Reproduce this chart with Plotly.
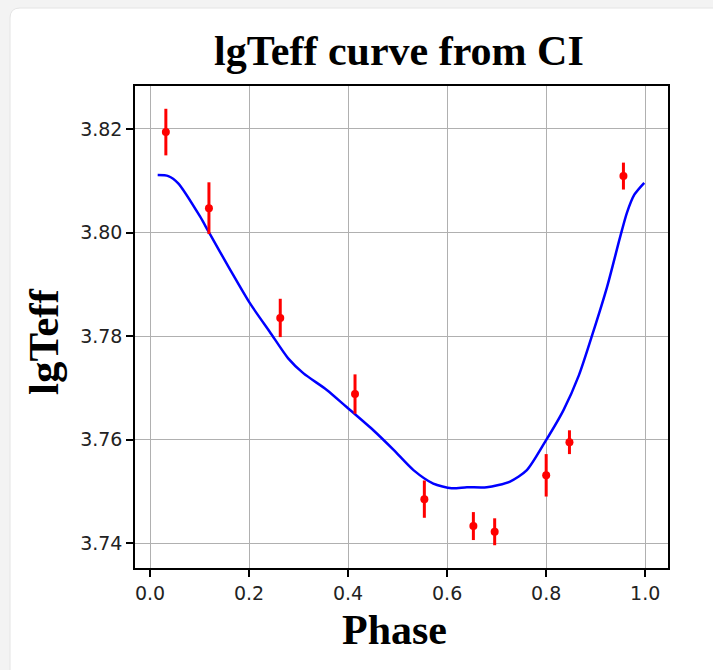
import plotly.graph_objects as go

# Observed data points (phase, lgTeff, error)
obs_phase = [0.032, 0.119, 0.263, 0.414, 0.554, 0.653, 0.696, 0.800, 0.847, 0.956]
obs_lgteff = [3.8194, 3.8047, 3.7835, 3.7688, 3.7485, 3.7433, 3.7422, 3.7531, 3.7595, 3.8109]
obs_err = [0.0045, 0.0050, 0.0037, 0.0038, 0.0036, 0.0027, 0.0026, 0.0041, 0.0023, 0.0026]

# Model curve
curve_phase = [0.0155, 0.037, 0.057, 0.101, 0.118, 0.162, 0.202, 0.242, 0.279, 0.310,
               0.357, 0.397, 0.451, 0.492, 0.532, 0.572, 0.609, 0.640, 0.680, 0.727,
               0.761, 0.798, 0.835, 0.866, 0.894, 0.923, 0.949, 0.963, 0.978, 0.998]
curve_lgteff = [3.8111, 3.8109, 3.8095, 3.8031, 3.8002, 3.7928, 3.7863, 3.7808, 3.7757, 3.7728,
                3.7696, 3.7663, 3.7618, 3.7580, 3.7541, 3.7515, 3.7506, 3.7508, 3.7508, 3.7519,
                3.7541, 3.7596, 3.7657, 3.7724, 3.7805, 3.7895, 3.7990, 3.8038, 3.8073, 3.8096]

x_ticks = [0.0, 0.2, 0.4, 0.6, 0.8, 1.0]
y_ticks = [3.74, 3.76, 3.78, 3.80, 3.82]

W, H = 713, 670
L, R, T, B = 135, 45, 86, 102
pw, ph = W - L - R, H - T - B

def px_x(p):
    return (p - L) / pw

def px_y(p):
    return (H - B - p) / ph

fig = go.Figure()
fig.add_trace(go.Scatter(
    x=curve_phase, y=curve_lgteff, mode="lines",
    line=dict(color="blue", width=2.5, shape="spline", smoothing=0.7),
    hoverinfo="skip"))
fig.add_trace(go.Scatter(
    x=obs_phase, y=obs_lgteff, mode="markers",
    marker=dict(color="red", size=8),
    error_y=dict(type="data", array=obs_err, color="red", thickness=3, width=0)))

# card background
x0, xr = px_x(10), px_x(760)
yt, yb = px_y(8), px_y(720)
rx, ry = 10 / pw, 10 / ph
path = (f"M {x0},{yb} L {x0},{yt - ry} Q {x0},{yt} {x0 + rx},{yt} "
        f"L {xr},{yt} L {xr},{yb} Z")
fig.add_shape(type="path", path=path, xref="paper", yref="paper",
              fillcolor="white", line=dict(color="#e4e4e4", width=1), layer="below")

serif = "Liberation Serif"
fig.add_annotation(text="<b>lgTeff curve from CI</b>", xref="paper", yref="paper",
                   x=px_x(399), y=px_y(51), showarrow=False, xanchor="center", yanchor="middle",
                   font=dict(family=serif, size=42, color="black"))
fig.add_annotation(text="<b>Phase</b>", xref="paper", yref="paper",
                   x=px_x(394), y=px_y(630), showarrow=False, xanchor="center", yanchor="middle",
                   font=dict(family=serif, size=42, color="black"))
fig.add_annotation(text="<b>lgTeff</b>", xref="paper", yref="paper", textangle=-90,
                   x=px_x(43), y=px_y(342), showarrow=False, xanchor="center", yanchor="middle",
                   font=dict(family=serif, size=43, color="black"))

axis_common = dict(showgrid=True, gridcolor="#b0b0b0", gridwidth=1.3,
                   showline=True, linecolor="black", linewidth=1.5, mirror=True,
                   ticks="outside", ticklen=7, tickwidth=1.5, tickcolor="black",
                   zeroline=False,
                   tickfont=dict(family="DejaVu Sans", size=19, color="#222222"))
fig.update_xaxes(range=[-0.0303, 1.046], tickvals=x_ticks,
                 ticktext=[f"{v:.1f}" for v in x_ticks], **axis_common)
fig.update_yaxes(range=[3.7352, 3.8283], tickvals=y_ticks,
                 ticktext=[f"{v:.2f}" for v in y_ticks], **axis_common)

fig.update_layout(width=W, height=H, margin=dict(l=L, r=R, t=T, b=B),
                  paper_bgcolor="#f3f3f3", plot_bgcolor="white", showlegend=False)
fig.write_html("out.html")
